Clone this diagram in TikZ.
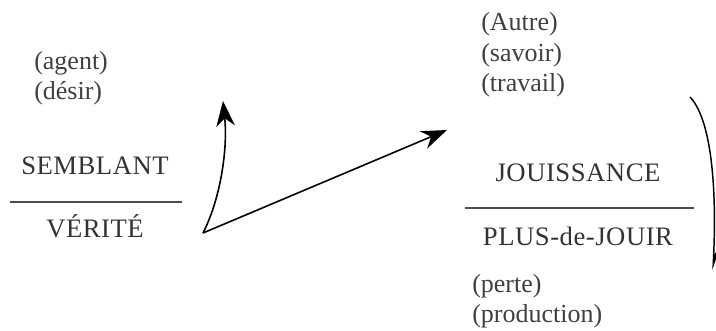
\documentclass[tikz,border=0pt]{standalone}
\usepackage{fontspec}
\setmainfont{Liberation Serif}
\newfontfamily\capsfont[LetterSpace=2]{Liberation Serif}
\usetikzlibrary{arrows.meta}
\begin{document}
\begin{tikzpicture}[x=0.75pt,y=-0.75pt,
  paren/.style={anchor=base west,inner sep=0pt,font=\fontsize{19.5}{22}\selectfont,text=black!75},
  term/.style={anchor=base,inner sep=0pt,font=\capsfont\fontsize{20}{22}\selectfont,text=black!80},
  bar/.style={line width=1.1pt,black!70},
  arr/.style={line width=1.2pt,-{Stealth[length=19pt,width=14pt,inset=6pt]}}]
\useasboundingbox (0,0) rectangle (716,331);
% left
\node[paren] (agent) at (34,70) {(agent)};
\node[paren] (desir) at (34,100) {(désir)};
\node[term] (semblant) at (95,175) {SEMBLANT};
\node[term] (verite) at (95,237) {VÉRITÉ};
\coordinate (l1) at (10,202);
\coordinate (l2) at (182,202);
\draw[bar] (l1) -- (l2);
% arrows
\coordinate (start) at (203,233);
\coordinate (tip1) at (223,101);
\coordinate (tip2) at (447,130);
\draw[arr] (start) .. controls (220,200) and (228,150) .. (tip1);
\draw[arr] (start) -- (tip2);
% right
\node[paren] (autre) at (481,31) {(Autre)};
\node[paren] (savoir) at (481,62) {(savoir)};
\node[paren] (travail) at (481,92) {(travail)};
\node[term] (jouis) at (578,181) {JOUISSANCE};
\node[term] (plus) at (578,245) {PLUS-de-JOUIR};
\coordinate (r1) at (465,208);
\coordinate (r2) at (694,208);
\draw[bar] (r1) -- (r2);
\node[paren] (perte) at (472,292) {(perte)};
\node[paren] (prod) at (472,322) {(production)};
% right curve
\coordinate (c1) at (690,97);
\coordinate (c2) at (713,270);
\draw[line width=1.1pt,-{Stealth[length=14pt,width=8pt,left]}] (c1) .. controls (710,118) and (717,180) .. (c2);
\end{tikzpicture}
\end{document}
